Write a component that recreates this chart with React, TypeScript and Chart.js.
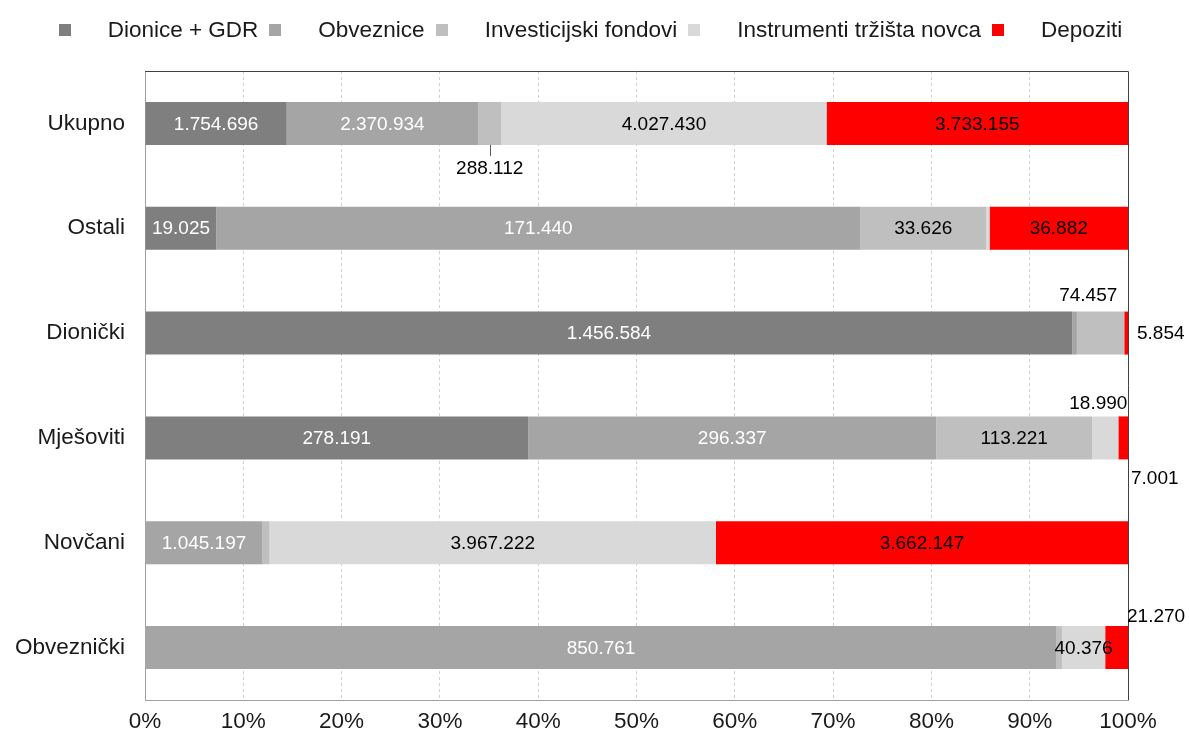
import React, { useEffect, useRef } from 'react';
import { Chart, registerables } from 'chart.js';

Chart.register(...registerables);

// ---------- data ----------
const categories = ['Ukupno', 'Ostali', 'Dionički', 'Mješoviti', 'Novčani', 'Obveznički'];
const seriesNames = ['Dionice + GDR', 'Obveznice', 'Investicijski fondovi', 'Instrumenti tržišta novca', 'Depoziti'];

const dioniceGdr = [1754696, 19025, 1456584, 278191, 0, 0];
const obveznice = [2370934, 171440, 7199, 296337, 1045197, 850761];
const investicijskiFondovi = [288112, 33626, 74457, 113221, 61808, 5000];
const instrumentiTrzistaNovca = [4027430, 842, 0, 18990, 3967222, 40376];
const depoziti = [3733155, 36882, 5854, 7001, 3662147, 21270];

const xTicks = [0, 10, 20, 30, 40, 50, 60, 70, 80, 90, 100];

// ---------- styles ----------
const seriesColors = ['#7f7f7f', '#a5a5a5', '#bfbfbf', '#d9d9d9', '#ff0000'];
const labelColors = ['#ffffff', '#ffffff', '#000000', '#000000', '#000000'];
const FONT = '"Liberation Sans", Arial, sans-serif';
const TEXT = '#1a1a1a';
const AXIS_FONT_SIZE = 22.5;

// label placements that are moved out of the bar (relative to the bar segment)
const labelOffsets = [
  { category: 'Ukupno', series: 2, anchorX: 'center', anchorY: 'bottom', dx: 0, dy: 23, align: 'center', leader: true },
  { category: 'Dionički', series: 2, anchorX: 'end', anchorY: 'top', dx: -7, dy: -17, align: 'right', leader: false },
  { category: 'Dionički', series: 4, anchorX: 'end', anchorY: 'middle', dx: 9, dy: 0, align: 'left', leader: false },
  { category: 'Mješoviti', series: 3, anchorX: 'end', anchorY: 'top', dx: 9, dy: -14, align: 'right', leader: false },
  { category: 'Mješoviti', series: 4, anchorX: 'end', anchorY: 'bottom', dx: 3, dy: 18, align: 'left', leader: false },
  { category: 'Obveznički', series: 4, anchorX: 'end', anchorY: 'top', dx: -1, dy: -10, align: 'left', leader: false },
];

const seriesValues = [dioniceGdr, obveznice, investicijskiFondovi, instrumentiTrzistaNovca, depoziti];
const totals = categories.map((_, i) => seriesValues.reduce((s, arr) => s + arr[i], 0));

function fmt(v: number): string {
  return String(Math.round(v)).replace(/\B(?=(\d{3})+(?!\d))/g, '.');
}

const legendPlugin = {
  id: 'customLegend',
  afterDraw(chart: any) {
    const ctx = chart.ctx;
    ctx.save();
    ctx.font = `${AXIS_FONT_SIZE}px ${FONT}`;
    const box = 12;
    const gapText = 37;
    const gapItem = 11;
    const widths = seriesNames.map((n) => ctx.measureText(n).width);
    const total = widths.reduce((s, w) => s + box + gapText + w, 0) + gapItem * (seriesNames.length - 1);
    let x = (chart.width - total) / 2 - 4;
    const cy = 30;
    ctx.textBaseline = 'middle';
    ctx.textAlign = 'left';
    seriesNames.forEach((name, i) => {
      ctx.fillStyle = seriesColors[i];
      ctx.fillRect(Math.round(x), cy - 6, box, box);
      ctx.fillStyle = TEXT;
      ctx.fillText(name, x + box + gapText, cy + 1);
      x += box + gapText + widths[i] + gapItem;
    });
    ctx.restore();
  },
};

const borderPlugin = {
  id: 'plotBorder',
  afterDatasetsDraw(chart: any) {
    const { ctx, chartArea } = chart;
    ctx.save();
    ctx.strokeStyle = '#404040';
    ctx.lineWidth = 1;
    ctx.beginPath();
    ctx.moveTo(chartArea.left, chartArea.top + 0.5);
    ctx.lineTo(chartArea.right + 0.5, chartArea.top + 0.5);
    ctx.lineTo(chartArea.right + 0.5, chartArea.bottom);
    ctx.stroke();
    ctx.restore();
  },
};

const labelPlugin = {
  id: 'segmentLabels',
  afterDatasetsDraw(chart: any) {
    const ctx = chart.ctx;
    ctx.save();
    ctx.font = `19px ${FONT}`;
    ctx.textBaseline = 'middle';
    seriesValues.forEach((arr, si) => {
      const meta = chart.getDatasetMeta(si);
      arr.forEach((v, ci) => {
        if (!v) return;
        const el = meta.data[ci];
        if (!el) return;
        const p = el.getProps(['x', 'y', 'base', 'height'], true);
        const x0 = Math.min(p.x, p.base);
        const x1 = Math.max(p.x, p.base);
        const top = p.y - p.height / 2;
        const bottom = p.y + p.height / 2;
        const off = labelOffsets.find((o) => o.category === categories[ci] && o.series === si);
        const text = fmt(v);
        if (!off) {
          if (x1 - x0 < 15) return;
          ctx.fillStyle = labelColors[si];
          ctx.textAlign = 'center';
          ctx.fillText(text, (x0 + x1) / 2, p.y + 1);
          return;
        }
        const ax = off.anchorX === 'center' ? (x0 + x1) / 2 : off.anchorX === 'end' ? x1 : x0;
        const ay = off.anchorY === 'top' ? top : off.anchorY === 'bottom' ? bottom : p.y;
        if (off.leader) {
          ctx.strokeStyle = '#595959';
          ctx.lineWidth = 1;
          ctx.beginPath();
          const lx = Math.round(ax) + 0.5;
          ctx.moveTo(lx, ay);
          ctx.lineTo(lx, ay + off.dy - 12);
          ctx.stroke();
        }
        ctx.fillStyle = '#000000';
        ctx.textAlign = off.align;
        ctx.fillText(text, ax + off.dx, ay + off.dy + 1);
      });
    });
    ctx.restore();
  },
};

export default function App() {
  const canvasRef = useRef<HTMLCanvasElement | null>(null);

  useEffect(() => {
    if (!canvasRef.current) return;
    const chart = new Chart(canvasRef.current, {
      type: 'bar',
      data: {
        labels: categories,
        datasets: seriesValues.map((arr, si) => ({
          label: seriesNames[si],
          data: arr.map((v, i) => (v / totals[i]) * 100),
          backgroundColor: seriesColors[si],
          borderWidth: 0,
          categoryPercentage: 1,
          barPercentage: 0.41,
        })),
      },
      options: {
        indexAxis: 'y',
        animation: false,
        responsive: false,
        layout: { padding: { top: 71, right: 61, bottom: 0, left: 0 } },
        plugins: {
          legend: { display: false },
          tooltip: { enabled: false },
        },
        scales: {
          x: {
            stacked: true,
            min: 0,
            max: 100,
            afterFit: (s: any) => { s.height = 36; },
            afterBuildTicks: (s: any) => { s.ticks = xTicks.map((v) => ({ value: v })); },
            ticks: {
              callback: (v: any) => `${v}%`,
              font: { family: FONT, size: AXIS_FONT_SIZE },
              color: TEXT,
              padding: 8,
              maxRotation: 0,
            },
            grid: {
              drawTicks: false,
              color: (c: any) => (c.tick && (c.tick.value === 0 || c.tick.value === 100) ? 'rgba(0,0,0,0)' : '#d0d0d0'),
              lineWidth: 1,
            },
            border: { display: true, color: '#a0a0a0', width: 1, dash: [3, 3] },
          },
          y: {
            stacked: true,
            afterFit: (s: any) => { s.width = 145; },
            ticks: {
              font: { family: FONT, size: AXIS_FONT_SIZE },
              color: TEXT,
              padding: 20,
            },
            grid: { display: false, drawTicks: false },
            border: { display: true, color: '#a0a0a0', width: 1 },
          },
        },
      },
      plugins: [legendPlugin, borderPlugin, labelPlugin],
    });
    return () => chart.destroy();
  }, []);

  return (
    <div style={{ position: 'absolute', left: 0, top: 0, width: 1189, height: 736, background: '#ffffff' }}>
      <canvas ref={canvasRef} width={1189} height={736} style={{ display: 'block' }} />
    </div>
  );
}
